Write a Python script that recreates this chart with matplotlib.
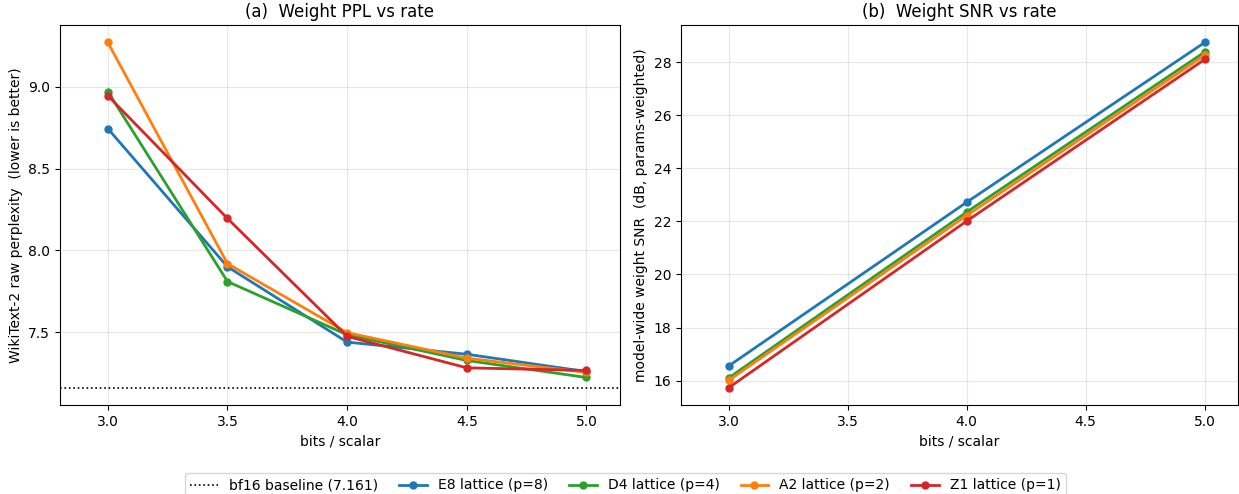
import matplotlib
matplotlib.use("Agg")
import matplotlib.pyplot as plt

# bits per scalar
rates_ppl = [3.0, 3.5, 4.0, 4.5, 5.0]
rates_snr = [3.0, 4.0, 5.0]
baseline_ppl = 7.161

labels = ["E8 lattice (p=8)", "D4 lattice (p=4)", "A2 lattice (p=2)", "Z1 lattice (p=1)"]
colors = ["#1f77b4", "#2ca02c", "#ff7f0e", "#d62728"]

# WikiText-2 perplexity per lattice
ppl_e8 = [8.744, 7.90, 7.44, 7.366, 7.26]
ppl_d4 = [8.97, 7.81, 7.485, 7.328, 7.224]
ppl_a2 = [9.27, 7.919, 7.498, 7.342, 7.255]
ppl_z1 = [8.945, 8.195, 7.475, 7.283, 7.267]

# weight SNR (dB) per lattice
snr_e8 = [16.55, 22.72, 28.74]
snr_d4 = [16.10, 22.35, 28.38]
snr_a2 = [16.01, 22.22, 28.26]
snr_z1 = [15.73, 22.01, 28.10]

ppl_all = [ppl_e8, ppl_d4, ppl_a2, ppl_z1]
snr_all = [snr_e8, snr_d4, snr_a2, snr_z1]
xticks = [3.0, 3.5, 4.0, 4.5, 5.0]

fig = plt.figure(figsize=(12.39, 4.94), dpi=100)
ax1 = fig.add_axes([0.0484, 0.180, 0.452, 0.769])
ax2 = fig.add_axes([0.5496, 0.180, 0.4496, 0.769])

h_base = ax1.axhline(baseline_ppl, color="black", linestyle=":", linewidth=1.2,
                     label=f"bf16 baseline ({baseline_ppl:.3f})")
handles = [h_base]
for lab, col, ys in zip(labels, colors, ppl_all):
    h, = ax1.plot(rates_ppl, ys, "-o", color=col, lw=2, ms=5, label=lab)
    handles.append(h)
ax1.set_title("(a)  Weight PPL vs rate", fontsize=12)
ax1.set_xlabel("bits / scalar")
ax1.set_ylabel("WikiText-2 raw perplexity  (lower is better)")

for lab, col, ys in zip(labels, colors, snr_all):
    ax2.plot(rates_snr, ys, "-o", color=col, lw=2, ms=5, label=lab)
ax2.set_title("(b)  Weight SNR vs rate", fontsize=12)
ax2.set_xlabel("bits / scalar")
ax2.set_ylabel("model-wide weight SNR  (dB, params-weighted)")

for ax in (ax1, ax2):
    ax.set_xticks(xticks)
    ax.set_xlim(2.8, 5.14)
    ax.grid(True, alpha=0.3)

fig.legend(handles=handles, loc="lower center", ncol=5, bbox_to_anchor=(0.5048, -0.022),
           fontsize=10, columnspacing=1.5)

fig.savefig("out.png", dpi=100)
